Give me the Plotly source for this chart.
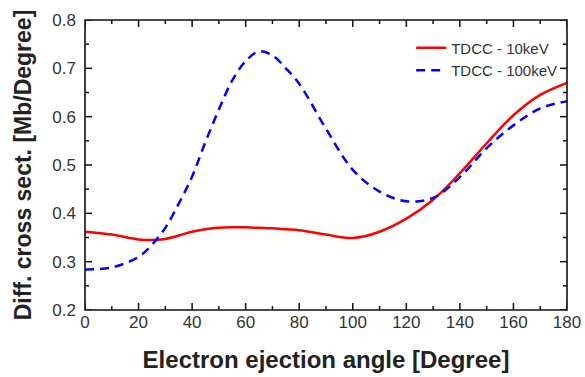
import plotly.graph_objects as go

angles = [0, 10, 20, 25, 30, 35, 40, 45, 50, 55, 60, 65, 70, 75, 80, 90, 100, 110, 120, 130, 140, 150, 160, 170, 180]
tdcc_10kev = [0.362, 0.356, 0.346, 0.345, 0.347, 0.354, 0.362, 0.367, 0.370, 0.371, 0.371, 0.370, 0.369, 0.367, 0.365, 0.356, 0.349, 0.362, 0.389, 0.428, 0.483, 0.545, 0.603, 0.645, 0.670]
tdcc_100kev = [0.284, 0.288, 0.310, 0.335, 0.370, 0.420, 0.476, 0.548, 0.615, 0.675, 0.715, 0.735, 0.727, 0.700, 0.668, 0.575, 0.490, 0.445, 0.425, 0.432, 0.475, 0.535, 0.582, 0.617, 0.632]

xticks = [0, 20, 40, 60, 80, 100, 120, 140, 160, 180]
xminor = [10, 30, 50, 70, 90, 110, 130, 150, 170]
yticks = [0.2, 0.3, 0.4, 0.5, 0.6, 0.7, 0.8]
yminor = [0.25, 0.35, 0.45, 0.55, 0.65, 0.75]

FONT = "Liberation Sans, Arial, sans-serif"
W, H = 585, 377
ML, MR, MT, MB = 85, 18, 20, 67
PW, PH = W - ML - MR, H - MT - MB
MAJ, MIN = 7, 4  # tick lengths in px

fig = go.Figure()
fig.add_trace(go.Scatter(x=angles, y=tdcc_10kev, mode="lines", name="TDCC - 10keV",
                         line=dict(color="#ff0000", width=2.5, shape="spline", smoothing=1.0)))
fig.add_trace(go.Scatter(x=angles, y=tdcc_100kev, mode="lines", name="TDCC - 100keV",
                         line=dict(color="#0000ff", width=2.5, shape="spline", smoothing=1.0, dash="9px,6px")))

axis_common = dict(showgrid=False, zeroline=False, showline=False, ticks="",
                   automargin=False,
                   tickfont=dict(family=FONT, size=17, color="#333"))

fig.update_xaxes(range=[0, 180], tickmode="array", tickvals=xticks,
                 title=dict(text="<b>Electron ejection angle [Degree]</b>", standoff=20,
                            font=dict(family=FONT, size=24, color="#222")),
                 **axis_common)
fig.update_yaxes(range=[0.2, 0.8], tickmode="array", tickvals=yticks, tickformat=".1f",
                 ticklabelstandoff=8,
                 title=dict(text="<b>Diff. cross sect. [Mb/Degree]</b>", standoff=14,
                            font=dict(family=FONT, size=23, color="#222")),
                 **axis_common)

tick_line = dict(color="#111", width=1.5)
shapes = [dict(type="rect", xref="paper", yref="paper", x0=0, y0=0, x1=1, y1=1,
               line=dict(color="#111", width=1.6), layer="above")]
for vals, ln in ((xticks, MAJ), (xminor, MIN)):
    f = ln / PH
    for v in vals:
        shapes.append(dict(type="line", xref="x", yref="paper", x0=v, x1=v, y0=0, y1=f, line=tick_line, layer="above"))
        shapes.append(dict(type="line", xref="x", yref="paper", x0=v, x1=v, y0=1, y1=1 - f, line=tick_line, layer="above"))
for vals, ln in ((yticks, MAJ), (yminor, MIN)):
    f = ln / PW
    for v in vals:
        shapes.append(dict(type="line", xref="paper", yref="y", x0=0, x1=f, y0=v, y1=v, line=tick_line, layer="above"))
        shapes.append(dict(type="line", xref="paper", yref="y", x0=1, x1=1 - f, y0=v, y1=v, line=tick_line, layer="above"))

fig.update_layout(width=W, height=H, margin=dict(l=ML, r=MR, t=MT, b=MB),
                  plot_bgcolor="white", paper_bgcolor="white", shapes=shapes,
                  legend=dict(x=0.99, y=0.96, xanchor="right", yanchor="top", bgcolor="rgba(0,0,0,0)",
                              font=dict(family=FONT, size=15, color="#333"),
                              tracegroupgap=0, itemwidth=30))

fig.write_html("out.html")
